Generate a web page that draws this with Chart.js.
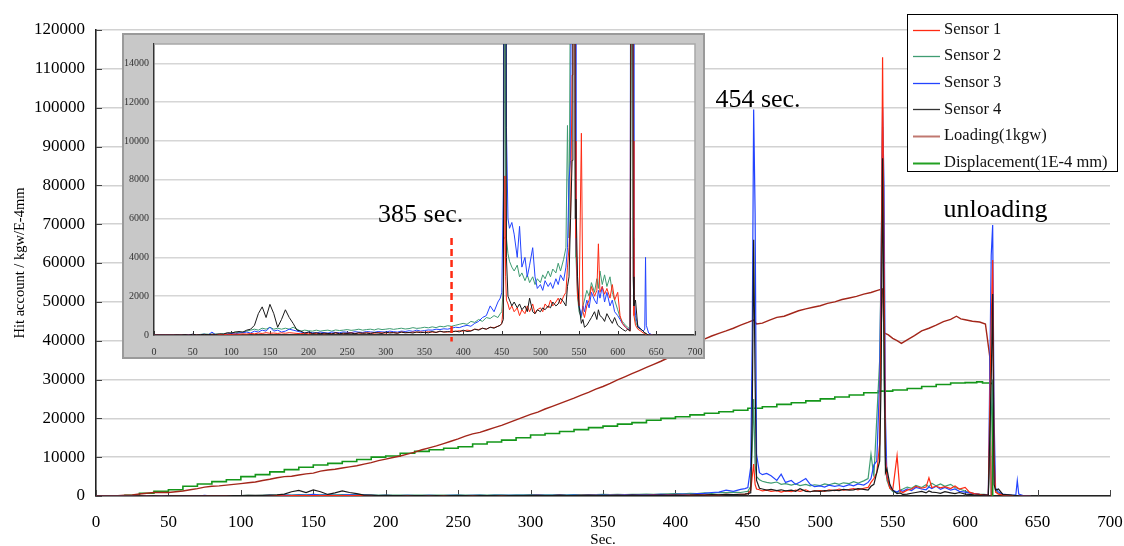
<!DOCTYPE html>
<html>
<head>
<meta charset="utf-8">
<title>Acoustic emission hits, loading and displacement</title>
<script src="https://cdn.jsdelivr.net/npm/chart.js@4.4.0/dist/chart.umd.min.js"></script>
<style>
  html, body { margin: 0; padding: 0; background: #fff; }
  #wrap { position: relative; width: 1124px; height: 546px; }
  #main { position: absolute; left: 0; top: 0; }
  #inset { position: absolute; left: 122px; top: 33px; }
</style>
</head>
<body>
<div id="wrap">
  <canvas id="main" width="1124" height="546"></canvas>
  <canvas id="inset" width="583" height="326"></canvas>
</div>
<script>
// ---- time base of the AE hit counts (s) ----
const sensorSec = [
  0,5,10,15,20,25,30,35,40,45,
  50,55,60,65,70,75,80,85,90,95,
  100,105,110,115,120,125,130,135,140,145,
  150,155,160,165,170,175,180,185,190,195,
  200,205,210,215,220,225,230,235,240,245,
  250,255,260,265,270,275,280,285,290,295,
  300,305,310,315,320,325,330,335,340,345,
  350,355,360,365,370,375,380,385,390,395,
  400,405,410,415,420,425,430,435,440,445,
  448,450,452,453,454,455,456,458,460,
  463,466,470,473,476,480,483,486,490,493,
  496,500,503,506,510,513,516,520,523,526,
  530,533,535,537,539,541,542,543,544,545,
  546,548,550,553,555,557,560,563,566,570,
  573,575,577,580,583,586,590,593,596,600,
  603,606,610,613,616,618,619,620,621,623,
  626,630,633,635,636,637,640,645
];

// ---- hit counts per sensor ----
const sensor1 = [
  0,0,0,0,0,0,0,0,0,0,
  0,10,0,20,0,20,10,30,20,40,
  30,50,40,60,50,80,60,100,80,120,
  90,100,80,110,90,120,100,80,70,90,
  60,80,70,90,60,80,70,100,80,70,
  90,110,80,100,90,120,100,90,130,110,
  100,140,120,100,150,130,120,150,140,160,
  130,170,150,140,180,160,150,200,180,220,
  200,250,220,300,280,350,300,400,380,450,
  500,600,1500,5000,8200,3000,1800,1600,1300,
  1500,1200,1400,1000,1300,1100,1500,1200,1600,1100,
  1300,1400,1200,1600,1400,1800,1500,1700,1900,1600,
  2000,2200,3500,4500,6000,13400,50000,113000,60000,10000,
  5000,2000,1500,10400,1200,900,1500,1800,2500,2000,
  2300,4700,2200,2500,2100,2400,1900,2600,1800,2200,
  1000,600,400,300,200,45000,60800,10000,1000,500,
  300,200,100,100,50,0,0,0
];
const sensor2 = [
  0,0,0,0,0,0,0,0,0,0,
  20,0,30,50,40,30,50,40,60,80,
  100,150,120,150,200,250,300,250,350,300,
  400,300,350,300,350,300,400,300,200,250,
  220,200,250,200,230,250,200,260,230,250,
  280,240,260,300,250,280,300,260,320,280,
  300,330,290,320,350,310,330,380,340,360,
  400,370,420,380,450,420,480,450,500,550,
  600,550,700,650,800,700,900,850,1000,900,
  1100,1200,2500,12000,25000,8000,5000,4200,3800,
  3500,3300,3600,3000,3200,2800,3100,2700,3000,2600,
  2900,2700,3100,2900,3300,3000,3400,3200,3700,3300,
  3900,4500,10800,5000,20000,35000,60000,95000,30000,8000,
  4000,2000,1200,900,1500,1800,2300,2000,2700,2200,
  2900,2400,3300,2600,3100,2500,3000,2200,1800,1300,
  900,700,500,400,300,20000,30000,5000,1500,700,
  400,300,200,100,100,50,0,0
];
const sensor3 = [
  0,0,0,0,0,0,0,0,0,20,
  30,0,20,40,0,150,0,20,30,50,
  80,60,100,120,150,100,200,150,250,200,
  400,200,250,150,200,300,250,200,150,100,
  150,120,100,150,120,100,150,130,120,160,
  140,120,170,150,130,180,160,140,180,160,
  150,200,170,150,200,180,220,190,250,200,
  230,260,250,300,280,320,300,350,400,380,
  450,500,450,600,700,900,1000,1500,1200,1700,
  1900,2200,7500,40000,99500,73000,10700,6000,5500,
  5800,5200,4000,5600,3500,4000,3000,3600,4500,3000,
  2400,2600,2300,2800,2500,2700,2400,2900,2600,3100,
  2800,3500,4500,8000,9000,30000,60000,100000,80000,20000,
  5000,2500,1500,1000,1500,1200,1800,1400,2200,1800,
  1600,2300,1900,2500,1700,2200,1500,1800,1200,1000,
  800,600,400,300,300,62000,69800,20000,2000,1000,
  500,300,200,300,4000,500,100,0
];
const sensor4 = [
  0,0,0,0,0,0,10,0,20,0,
  40,10,20,30,20,40,30,60,50,120,
  100,150,180,150,250,300,500,1100,1450,900,
  1580,1100,400,800,1300,900,600,250,200,100,
  150,80,120,60,100,80,50,120,60,100,
  80,100,60,120,90,100,70,130,100,80,
  150,100,120,90,150,110,130,100,160,120,
  140,110,180,130,200,150,180,150,200,160,
  250,180,200,300,250,350,300,400,350,450,
  500,600,800,20000,66000,30000,4000,2000,1800,
  1500,1700,1400,1600,1300,1500,1200,1900,1200,1100,
  1300,1200,1400,1300,1500,1400,1700,1500,1600,1900,
  1700,1500,2500,3000,6000,9000,30000,87000,40000,6000,
  7000,3000,1500,600,800,400,500,700,900,1200,
  800,1300,1000,900,700,1100,800,600,900,500,
  400,300,200,300,200,30000,52000,3000,1500,1800,
  400,300,200,100,100,50,0,0
];

// ---- loading (kgw) ----
const loadSec = [
  0,5,10,15,20,25,30,35,40,45,
  50,55,60,65,70,75,80,85,90,95,
  100,105,110,115,120,125,130,135,140,145,
  150,155,160,165,170,175,180,185,190,195,
  200,205,210,215,220,225,230,235,240,245,
  250,255,260,265,270,275,280,285,290,295,
  300,305,310,315,320,325,330,335,340,345,
  350,355,360,365,370,375,380,385,390,395,
  400,405,410,415,420,425,430,435,440,445,
  450,454,456,460,465,470,475,480,485,490,
  495,500,505,510,515,520,525,530,535,540,
  543,544,547,550,553,556,560,565,570,575,
  580,585,590,594,597,600,605,610,614,617,
  618
];
const loadKgw = [
  0,100,100,100,200,300,500,700,900,900,
  900,1100,1300,1600,1900,2300,2500,2600,2800,3000,
  3200,3400,3600,4000,4300,4700,5000,5100,5400,5700,
  5900,6400,6700,6900,7200,7500,7800,8200,8600,9100,
  9500,9900,10300,10800,11300,11900,12400,12900,13500,14100,
  14700,15400,16000,16400,17000,17600,18200,18900,19600,20300,
  21000,21600,22400,23100,23800,24500,25200,26000,26700,27500,
  28200,29000,29900,30700,31500,32300,33100,33900,34700,35600,
  36600,37600,38600,39500,40400,41200,41900,42500,43200,44000,
  44700,45300,44300,44500,45300,46000,46300,47000,47700,48200,
  48600,49000,49600,50000,50600,51000,51400,52000,52400,53000,
  53300,42000,41500,40600,40000,39300,40200,41300,42500,43200,
  44000,44900,45500,46300,45600,45400,45000,44800,44300,35900,
  0
];

// ---- displacement (1E-4 mm) ----
const dispSec = [
  0,10,20,30,40,50,60,70,80,90,
  100,110,120,130,140,150,160,170,180,190,
  200,210,220,230,240,250,260,270,280,290,
  300,310,320,330,340,350,360,370,380,390,
  400,410,420,430,440,450,460,470,480,490,
  500,510,520,530,540,550,560,570,580,590,
  600,608,612,617,619
];
const dispVal = [
  0,0,200,700,1200,1600,2500,3100,3700,4200,
  5000,5500,6200,6800,7400,8000,8400,8900,9400,10000,
  10300,11000,11500,11900,12300,12700,13400,13900,14400,15000,
  15700,16100,16600,17100,17600,18000,18500,18900,19500,20000,
  20400,20900,21300,21700,22100,22600,23000,23600,24000,24500,
  25000,25500,26000,26600,27000,27300,27700,28200,28700,29100,
  29200,29400,29100,29000,0
];

// ---- axis ticks ----
const mainXTicks = [0,50,100,150,200,250,300,350,400,450,500,550,600,650,700];
const mainYTicks = [0,10000,20000,30000,40000,50000,60000,70000,80000,90000,100000,110000,120000];
const insetXTicks = mainXTicks;
const insetYTicks = [0,2000,4000,6000,8000,10000,12000,14000];

const seriesNames = ['Sensor 1','Sensor 2','Sensor 3','Sensor 4','Loading(1kgw)','Displacement(1E-4 mm)'];
const seriesColors = ['#ff2a12','#3f9c72','#2344ff','#1a1a1a','#a3261a','#14961a'];
const legendColors = ['#ff2a12','#3f9c72','#2344ff','#333333','#c07870','#22a022'];

const SERIF = "'Liberation Serif','DejaVu Serif',serif";

const pairs = (xs, ys) => xs.map((t, i) => ({ x: t, y: ys[i] }));
const sensorSets = [sensor1, sensor2, sensor3, sensor4];
const sensorOrder = [2, 4, 3, 1];

function sensorDatasets(width) {
  return sensorSets.map((vals, i) => ({
    label: seriesNames[i],
    data: pairs(sensorSec, vals),
    borderColor: seriesColors[i],
    borderWidth: width,
    pointRadius: 0,
    tension: 0,
    order: sensorOrder[i]
  }));
}

function fixedTicks(list) {
  return function (scale) {
    scale.ticks = list.map(v => ({ value: v }));
  };
}

// keep the plot edges exactly where the layout puts them
function noEdgePadding(s) {
  s.paddingLeft = 0;
  s.paddingRight = 0;
  s.paddingTop = 0;
  s.paddingBottom = 0;
}

// tick marks pointing into the plot area
function inwardTicks(len, color, doY) {
  return {
    id: 'inwardTicks',
    beforeDatasetsDraw(chart) {
      const { ctx, chartArea: a, scales: { x, y } } = chart;
      ctx.save();
      ctx.strokeStyle = color;
      ctx.lineWidth = 1;
      ctx.beginPath();
      x.ticks.forEach(t => {
        const px = Math.round(x.getPixelForValue(t.value)) + 0.5;
        ctx.moveTo(px, a.bottom);
        ctx.lineTo(px, a.bottom - len);
      });
      if (doY) {
        y.ticks.forEach(t => {
          const py = Math.round(y.getPixelForValue(t.value)) + 0.5;
          ctx.moveTo(a.left, py);
          ctx.lineTo(a.left + len, py);
        });
      }
      ctx.stroke();
      ctx.restore();
    }
  };
}

// ---------------- main chart ----------------
const mainDeco = {
  id: 'mainDeco',
  beforeDraw(chart) {
    const { ctx } = chart;
    ctx.save();
    ctx.fillStyle = '#fff';
    ctx.fillRect(0, 0, chart.width, chart.height);
    ctx.restore();
  },
  afterDatasetsDraw(chart) {
    const { ctx, scales: { x, y } } = chart;
    ctx.save();
    ctx.fillStyle = '#000';
    ctx.font = '26px ' + SERIF;
    ctx.textAlign = 'center';
    ctx.textBaseline = 'middle';
    ctx.fillText('454 sec.', x.getPixelForValue(457), y.getPixelForValue(102000));
    ctx.fillText('unloading', x.getPixelForValue(621), y.getPixelForValue(73600));
    ctx.restore();
  },
  afterDraw(chart) {
    const { ctx } = chart;
    const bx = 907.5, by = 14.5, bw = 210, bh = 157;
    ctx.save();
    ctx.fillStyle = '#fff';
    ctx.fillRect(bx, by, bw, bh);
    ctx.strokeStyle = '#000';
    ctx.lineWidth = 1;
    ctx.strokeRect(bx, by, bw, bh);
    ctx.font = '16.5px ' + SERIF;
    ctx.textAlign = 'left';
    ctx.textBaseline = 'middle';
    seriesNames.forEach((name, i) => {
      const cy = 29.5 + i * 26.6;
      ctx.strokeStyle = legendColors[i];
      ctx.lineWidth = i >= 4 ? 2 : 1.3;
      ctx.beginPath();
      ctx.moveTo(913, Math.round(cy) + 0.5);
      ctx.lineTo(940, Math.round(cy) + 0.5);
      ctx.stroke();
      ctx.fillStyle = '#111';
      ctx.fillText(name, 944, cy);
    });
    ctx.restore();
  }
};

new Chart(document.getElementById('main'), {
  type: 'line',
  data: {
    datasets: sensorDatasets(1.2).concat([
      {
        label: seriesNames[4],
        data: pairs(loadSec, loadKgw),
        borderColor: seriesColors[4],
        borderWidth: 1.4,
        pointRadius: 0,
        tension: 0,
        order: 5
      },
      {
        label: seriesNames[5],
        data: pairs(dispSec, dispVal),
        borderColor: seriesColors[5],
        borderWidth: 1.6,
        pointRadius: 0,
        stepped: 'before',
        order: 6
      }
    ])
  },
  options: {
    responsive: false,
    animation: false,
    events: [],
    layout: { padding: { top: 30, right: 14, left: 0, bottom: 0 } },
    plugins: { legend: { display: false }, tooltip: { enabled: false } },
    scales: {
      x: {
        type: 'linear',
        min: 0, max: 700,
        afterBuildTicks: fixedTicks(mainXTicks),
        ticks: { font: { family: SERIF, size: 17 }, color: '#000', padding: 16, maxRotation: 0, autoSkip: false },
        grid: { display: false, drawTicks: false },
        border: { display: true, color: '#222', width: 1.6 },
        title: { display: true, text: 'Sec.', font: { family: SERIF, size: 15, lineHeight: 1 }, color: '#000', padding: { top: 0, bottom: -2 } },
        afterFit(s) { s.height = 50; noEdgePadding(s); }
      },
      y: {
        type: 'linear',
        min: 0, max: 120000,
        afterBuildTicks: fixedTicks(mainYTicks),
        ticks: { font: { family: SERIF, size: 17 }, color: '#000', padding: 11, callback: v => String(v) },
        grid: { color: '#d2d2d2', lineWidth: 1.5, drawTicks: false },
        border: { display: true, color: '#222', width: 1.6 },
        title: { display: true, text: 'Hit account / kgw/E-4mm', font: { family: SERIF, size: 14.5 }, color: '#000', padding: { top: 11, bottom: 0 } },
        afterFit(s) { s.width = 96; noEdgePadding(s); }
      }
    }
  },
  plugins: [mainDeco, inwardTicks(6, '#444', true)]
});

// ---------------- inset (zoom on low hit counts) ----------------
const insetDeco = {
  id: 'insetDeco',
  beforeDraw(chart) {
    const { ctx, chartArea: a } = chart;
    ctx.save();
    ctx.fillStyle = '#c8c8c8';
    ctx.fillRect(0, 0, chart.width, chart.height);
    ctx.strokeStyle = '#9a9a9a';
    ctx.lineWidth = 2;
    ctx.strokeRect(1, 1, chart.width - 2, chart.height - 2);
    ctx.fillStyle = '#fff';
    ctx.fillRect(a.left, a.top, a.right - a.left, a.bottom - a.top);
    ctx.restore();
  },
  beforeDatasetsDraw(chart) {
    const { ctx, chartArea: a } = chart;
    ctx.save();
    ctx.strokeStyle = '#a8a8a8';
    ctx.lineWidth = 1.5;
    ctx.beginPath();
    ctx.moveTo(a.left, a.top);
    ctx.lineTo(a.right, a.top);
    ctx.lineTo(a.right, a.bottom);
    ctx.stroke();
    ctx.restore();
  },
  afterDatasetsDraw(chart) {
    const { ctx, scales: { x, y } } = chart;
    ctx.save();
    const px = x.getPixelForValue(385);
    ctx.strokeStyle = '#ff2a12';
    ctx.lineWidth = 2.5;
    ctx.setLineDash([7, 4]);
    ctx.beginPath();
    ctx.moveTo(px, y.getPixelForValue(5000));
    ctx.lineTo(px, y.getPixelForValue(-330));
    ctx.stroke();
    ctx.setLineDash([]);
    ctx.fillStyle = '#000';
    ctx.font = '26px ' + SERIF;
    ctx.textAlign = 'center';
    ctx.textBaseline = 'middle';
    ctx.fillText('385 sec.', x.getPixelForValue(345), y.getPixelForValue(6200));
    ctx.restore();
  }
};

new Chart(document.getElementById('inset'), {
  type: 'line',
  data: { datasets: sensorDatasets(1) },
  options: {
    responsive: false,
    animation: false,
    events: [],
    layout: { padding: { top: 11, right: 10, left: 0, bottom: 0 } },
    plugins: { legend: { display: false }, tooltip: { enabled: false } },
    scales: {
      x: {
        type: 'linear',
        min: 0, max: 700,
        afterBuildTicks: fixedTicks(insetXTicks),
        ticks: { font: { family: SERIF, size: 10 }, color: '#333', padding: 11, maxRotation: 0, autoSkip: false },
        grid: { display: false, drawTicks: false },
        border: { display: true, color: '#333', width: 1.5 },
        afterFit(s) { s.height = 24; noEdgePadding(s); }
      },
      y: {
        type: 'linear',
        min: 0, max: 15000,
        afterBuildTicks: fixedTicks(insetYTicks),
        ticks: { font: { family: SERIF, size: 10 }, color: '#333', padding: 5, callback: v => String(v) },
        grid: { color: '#d6d6d6', lineWidth: 1.5, drawTicks: false },
        border: { display: true, color: '#333', width: 1.5 },
        afterFit(s) { s.width = 32; noEdgePadding(s); }
      }
    }
  },
  plugins: [insetDeco, inwardTicks(4, '#333', false)]
});
</script>
</body>
</html>
